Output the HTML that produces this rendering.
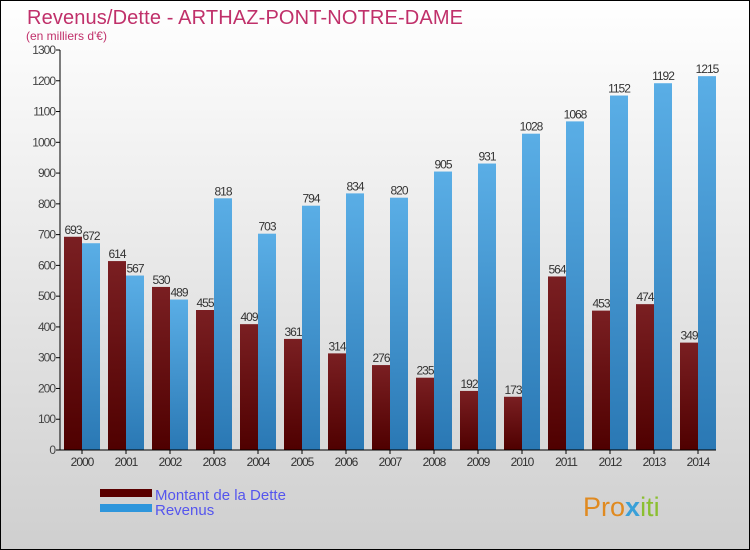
<!DOCTYPE html>
<html><head><meta charset="utf-8"><style>
body{margin:0}
svg{display:block;font-family:"Liberation Sans","DejaVu Sans",sans-serif}
</style></head><body>
<svg id="c" width="750" height="550" xmlns="http://www.w3.org/2000/svg">
<defs>
<linearGradient id="bg" x1="0" y1="0" x2="0" y2="1"><stop offset="0" stop-color="#ffffff"/><stop offset="1" stop-color="#cfcfcf"/></linearGradient>
<linearGradient id="gd" x1="0" y1="0" x2="0" y2="1"><stop offset="0" stop-color="#7a1f22"/><stop offset="1" stop-color="#4f0000"/></linearGradient>
<linearGradient id="gb" x1="0" y1="0" x2="0" y2="1"><stop offset="0" stop-color="#5aaee6"/><stop offset="1" stop-color="#2a78b4"/></linearGradient>
</defs>
<rect x="0.5" y="0.5" width="749" height="549" fill="url(#bg)" stroke="#000"/>
<text x="27" y="24" font-size="20" fill="#c0306a" textLength="436">Revenus/Dette - ARTHAZ-PONT-NOTRE-DAME</text>
<text x="26" y="40" font-size="12" fill="#c0306a">(en milliers d'€)</text>
<g id="plot"></g>
<g>
<rect x="100" y="489" width="52" height="8" fill="#5a0000"/>
<text x="155" y="500" font-size="15" fill="#5555ee">Montant de la Dette</text>
<rect x="100" y="504" width="52" height="8" fill="#2e96dc"/>
<text x="155" y="515" font-size="15" fill="#5555ee">Revenus</text>
</g>
<text x="583" y="516" font-size="27" fill="#e08a20">Pro<tspan fill="#3aa0d8" font-weight="bold">x</tspan><tspan fill="#8bbf30">iti</tspan></text>
</svg>
<script>
const years=["2000","2001","2002","2003","2004","2005","2006","2007","2008","2009","2010","2011","2012","2013","2014"];
const dette=[693,614,530,455,409,361,314,276,235,192,173,564,453,474,349];
const revenus=[672,567,489,818,703,794,834,820,905,931,1028,1068,1152,1192,1215];
const yTicks=[0,100,200,300,400,500,600,700,800,900,1000,1100,1200,1300];
const NS="http://www.w3.org/2000/svg";
const g=document.getElementById('plot');
const y=v=>450-v*400/1300;
const x=i=>82+i*44;
function mk(t,a,txt){const e=document.createElementNS(NS,t);for(const k in a)e.setAttribute(k,a[k]);if(txt!==undefined)e.textContent=txt;g.appendChild(e);return e;}
yTicks.forEach(t=>{
 const l=mk('line',{x1:56,x2:60,y1:y(t),y2:y(t),stroke:'#000'});
 
 
 const tx=mk('text',{x:55,y:y(t)+4,'font-size':12,'text-anchor':'end',fill:'#444','letter-spacing':'-1'},t);
 
 
});
years.forEach((yr,i)=>{
 const cx=x(i);
 const b1=mk('rect',{x:cx-18,y:y(dette[i]),width:18,height:450-y(dette[i]),fill:'url(#gd)'});
 
 
 const b2=mk('rect',{x:cx,y:y(revenus[i]),width:18,height:450-y(revenus[i]),fill:'url(#gb)'});
 
 
 const l1=mk('text',{x:cx-9,y:y(dette[i])-3,'font-size':12,'text-anchor':'middle',fill:'#333','letter-spacing':'-1'},dette[i]);
 
 
 const l2=mk('text',{x:cx+9,y:y(revenus[i])-3,'font-size':12,'text-anchor':'middle',fill:'#333','letter-spacing':'-1'},revenus[i]);
 
 
 const tk=mk('line',{x1:cx,x2:cx,y1:450,y2:454,stroke:'#000'});
 
 
 const xl=mk('text',{x:cx,y:466,'font-size':12,'text-anchor':'middle',fill:'#333','letter-spacing':'-1'},yr);
 
 
});
const ax=mk('line',{x1:60,x2:60,y1:50,y2:450,stroke:'#000'});


const bx=mk('line',{x1:60,x2:716,y1:450,y2:450,stroke:'#000'});


</script>
</body></html>
